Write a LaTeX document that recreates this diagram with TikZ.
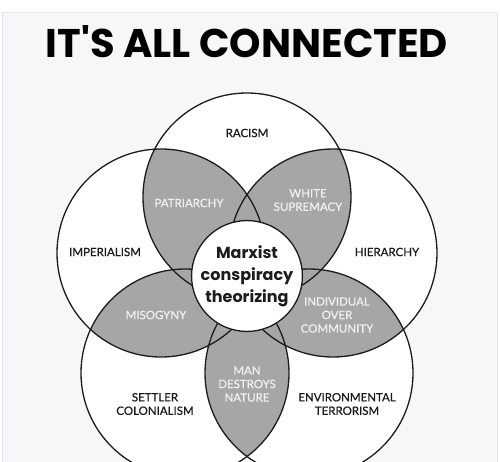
\documentclass[tikz,border=0pt]{standalone}
\usepackage{fontspec}
\setmainfont{Lato}
\newfontfamily\titlefont{Poppins}
\newfontfamily\labelfont{Lato}[FakeBold=0.6]
\definecolor{bg}{RGB}{246,247,249}
\definecolor{panelline}{RGB}{226,230,237}
\definecolor{lens}{RGB}{166,166,166}
\definecolor{lenstext}{RGB}{240,240,240}
\definecolor{ink}{RGB}{28,28,28}
\tikzset{
  ring/.style={draw=ink, line width=1.3pt},
  outlabel/.style={font=\labelfont\fontsize{11.5}{13.5}\selectfont, text=ink, align=center, inner sep=0pt},
  inlabel/.style={outlabel, text=lenstext},
}
\begin{document}
\begin{tikzpicture}[x=1pt,y=-1pt]
\useasboundingbox (0,0) rectangle (500,462);
\fill[white] (0,0) rectangle (500,462);
\filldraw[fill=bg, draw=panelline, line width=1pt] (2,13) rectangle (497,470);
\coordinate (cT) at (247,197);
\coordinate (cL) at (161,253);
\coordinate (cR) at (333,253);
\coordinate (cBL) at (185,373);
\coordinate (cBR) at (309,373);
\def\R{104}
\begin{scope}
  \clip (0,0) rectangle (500,462);
  \foreach \c in {cT,cL,cR,cBL,cBR} \fill[white] (\c) circle[radius=\R];
  \foreach \a/\b in {cT/cL,cT/cR,cT/cBL,cT/cBR,cL/cR,cL/cBL,cL/cBR,cR/cBL,cR/cBR,cBL/cBR}{
    \begin{scope}
      \clip (\a) circle[radius=\R];
      \fill[lens] (\b) circle[radius=\R];
    \end{scope}
  }
  \foreach \c in {cT,cL,cR,cBL,cBR} \draw[ring] (\c) circle[radius=\R];
\end{scope}
\node[circle, draw=ink, fill=white, line width=1.3pt, minimum size=100pt, inner sep=0pt,
      align=center, text=ink, font=\titlefont\bfseries\fontsize{16}{22}\selectfont] (core) at (247,276)
      {Marxist\\conspiracy\\theorizing};
\node[anchor=base, text=black, inner sep=0pt] (title) at (247,58)
      {\titlefont\bfseries\fontsize{40}{42}\selectfont IT'S ALL CONNECTED};
\node[outlabel] (racism) at (247,133) {RACISM};
\node[inlabel] (patriarchy) at (189,203) {PATRIARCHY};
\node[inlabel] (white) at (308,200) {WHITE\\SUPREMACY};
\node[outlabel] (imperialism) at (105,252) {IMPERIALISM};
\node[outlabel] (hierarchy) at (387,252) {HIERARCHY};
\node[inlabel] (misogyny) at (156,315) {MISOGYNY};
\node[inlabel] (individual) at (337,315) {INDIVIDUAL\\OVER\\COMMUNITY};
\node[inlabel] (man) at (247,384) {MAN\\DESTROYS\\NATURE};
\node[outlabel] (settler) at (155,404) {SETTLER\\COLONIALISM};
\node[outlabel] (env) at (347,404) {ENVIRONMENTAL\\TERRORISM};
\end{tikzpicture}
\end{document}
